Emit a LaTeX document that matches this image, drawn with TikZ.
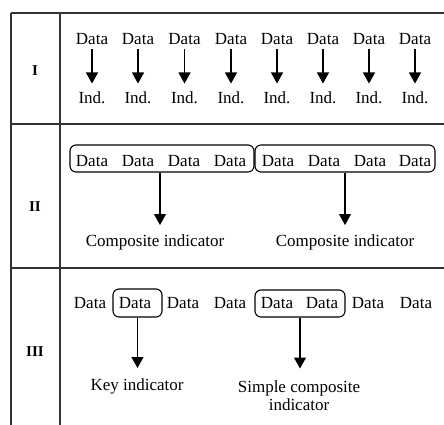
\documentclass[tikz,border=0pt]{standalone}
\usepackage{fontspec}
\setmainfont{Liberation Serif}
\usetikzlibrary{arrows.meta}
\begin{document}
\begin{tikzpicture}[x=1pt,y=-1pt,
  rule/.style={line width=1.5pt, black!80},
  txt/.style={inner sep=0pt, text height=11.3pt, text depth=0pt, anchor=base,
              font=\fontsize{17}{20}\selectfont},
  rowlabel/.style={inner sep=0pt, anchor=base, font=\fontsize{15}{18}\selectfont\bfseries},
  grp/.style={draw, rounded corners=6pt, line width=1.1pt, inner sep=0pt},
  flow/.style={line width=1.1pt, -{Triangle[length=11pt,width=12pt]}}]
\useasboundingbox (0,0) rectangle (444,425);
% table rules
\draw[rule] (11,13) -- (444,13);
\draw[rule] (11,124) -- (444,124);
\draw[rule] (11,268) -- (444,268);
\draw[rule] (11,13) -- (11,425);
\draw[rule] (60,13) -- (60,425);
% row labels
\node[rowlabel] (r1) at (35,76) {I};
\node[rowlabel] (r2) at (35,211) {II};
\node[rowlabel] (r3) at (35,356) {III};
% row I: each datum gives one indicator
\foreach \i/\x in {1/92,2/138,3/184.5,4/231,5/277,6/323,7/369,8/415} {
  \node[txt] (d\i) at (\x,44.3) {Data};
  \node[txt] (n\i) at (\x,103) {Ind.};
  \draw[flow, shorten <=5pt, shorten >=8pt] (d\i.south) -- (n\i.north);
}
% row II: groups of data combined into composite indicators
\foreach \i/\x in {1/92,2/138,3/184,4/230,5/278,6/324,7/370,8/415}
  \node[txt] (e\i) at (\x,166) {Data};
\node[grp, minimum width=184pt, minimum height=27pt] (g1) at (162,158.5) {};
\node[grp, minimum width=180pt, minimum height=27pt] (g2) at (345,158.5) {};
\node[txt] (c1) at (155,246) {Composite indicator};
\node[txt] (c2) at (345,246) {Composite indicator};
\draw[flow, shorten >=9.5pt] (g1.south -| 160,0) -- (160,0 |- c1.north);
\draw[flow, shorten >=9.5pt] (g2.south) -- (g2.south |- c2.north);
% row III: key indicator and simple composite
\foreach \i/\x in {1/90,2/135,3/183,4/230,5/277,6/322,7/368,8/416}
  \node[txt] (f\i) at (\x,308) {Data};
\node[grp, minimum width=49pt, minimum height=28pt] (k) at (137.5,303) {};
\node[grp, minimum width=90pt, minimum height=27pt] (s) at (300,303.5) {};
\node[txt] (kl) at (137,390) {Key indicator};
\node[txt] (sl) at (299,392) {Simple composite};
\node[txt] (sm) at (299,410) {indicator};
\draw[flow, shorten >=10.5pt] (k.south) -- (k.south |- kl.north);
\draw[flow, shorten >=12pt] (s.south) -- (s.south |- sl.north);
\end{tikzpicture}
\end{document}
